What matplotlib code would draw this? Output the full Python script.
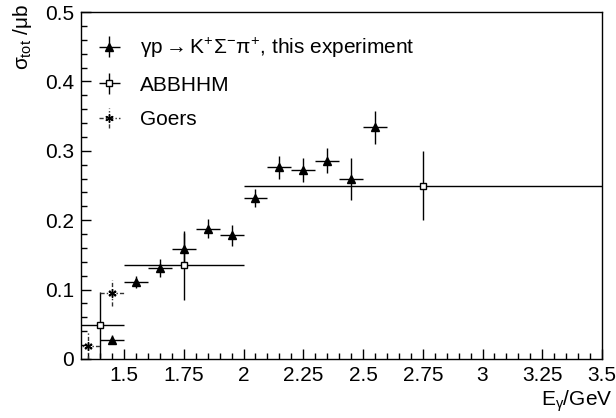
import numpy as np
import matplotlib
matplotlib.use("Agg")
import matplotlib.pyplot as plt
from matplotlib.ticker import MultipleLocator

plt.rcParams['font.family'] = ['Liberation Sans', 'DejaVu Sans']
plt.rcParams['mathtext.fontset'] = 'custom'
plt.rcParams['mathtext.rm'] = 'Liberation Sans'
plt.rcParams['mathtext.it'] = 'Liberation Sans'
plt.rcParams['mathtext.bf'] = 'Liberation Sans:bold'
plt.rcParams['mathtext.sf'] = 'Liberation Sans'

# this experiment
exp_x = [1.45, 1.55, 1.65, 1.75, 1.85, 1.95, 2.05, 2.15, 2.25, 2.35, 2.45, 2.55]
exp_y = [0.028, 0.111, 0.131, 0.159, 0.188, 0.178, 0.232, 0.276, 0.272, 0.286, 0.259, 0.334]
exp_yerr = [0.007, 0.009, 0.013, 0.022, 0.014, 0.015, 0.013, 0.017, 0.017, 0.018, 0.030, 0.024]
exp_xerr = [0.05] * 12

# ABBHHM
abb_x = [1.40, 1.75, 2.75]
abb_y = [0.049, 0.135, 0.250]
abb_yerr = [0.048, 0.050, 0.050]
abb_xerr = [0.10, 0.25, 0.75]

# Goers
go_x = [1.35, 1.45]
go_y = [0.019, 0.095]
go_yerr = [0.020, 0.019]
go_xerr = [0.05, 0.05]

fig = plt.figure(figsize=(6.16, 4.18), dpi=100)
ax = fig.add_axes([81/616, 1-359/418, (602-81)/616, (359-12)/418])

lw = 1.0
e1 = ax.errorbar(exp_x, exp_y, yerr=exp_yerr, xerr=exp_xerr, fmt='^', color='black',
                 ms=5.5, elinewidth=lw, capsize=0,
                 label=r'$\gamma$p$\rightarrow$K$^{+}\Sigma^{-}\pi^{+}$, this experiment')
e2 = ax.errorbar(abb_x, abb_y, yerr=abb_yerr, xerr=abb_xerr, fmt='s', color='black',
                 mfc='white', ms=4.5, mew=1.0, elinewidth=lw, capsize=0, label='ABBHHM')
e3 = ax.errorbar(go_x, go_y, yerr=go_yerr, xerr=go_xerr, linestyle='none',
                 marker=(6, 2, 0), ms=6, mew=1.0, mec='black', color='#333333',
                 elinewidth=lw, capsize=0, label='Goers')
for lc in e3[2]:
    lc.set_linestyle((0, (3, 1.5, 1, 1.5)))
ax.plot(go_x, go_y, linestyle='none', marker='x', color='black', ms=4, mew=0.8)

ax.set_xlim(1.32, 3.5)
ax.set_ylim(0, 0.5)
ax.xaxis.set_major_locator(MultipleLocator(0.25))
ax.xaxis.set_minor_locator(MultipleLocator(0.05))
ax.yaxis.set_major_locator(MultipleLocator(0.1))
ax.yaxis.set_minor_locator(MultipleLocator(0.02))
ax.set_xticks([1.5, 1.75, 2, 2.25, 2.5, 2.75, 3, 3.25, 3.5])
ax.set_xticklabels(['1.5', '1.75', '2', '2.25', '2.5', '2.75', '3', '3.25', '3.5'])
ax.set_yticks([0, 0.1, 0.2, 0.3, 0.4, 0.5])
ax.set_yticklabels(['0', '0.1', '0.2', '0.3', '0.4', '0.5'])
ax.tick_params(which='both', direction='in', top=False, right=False, labelsize=15, width=1)
ax.tick_params(which='major', length=7, pad=5)
ax.tick_params(which='minor', length=4)
for s in ax.spines.values():
    s.set_linewidth(1.0)

ax.set_xlabel(r'E$_{\gamma}$/GeV', fontsize=15, ha='right')
ax.xaxis.set_label_coords((612-81)/521, (359-389)/347)
ax.set_ylabel(r'$\sigma_{tot}$ /$\mu$b', fontsize=15, ha='right')
ax.yaxis.set_label_coords((34-81)/521, (359-4)/347)

leg = ax.legend(handles=[e1, e2, e3], loc='upper left',
                bbox_to_anchor=((98-81)/521, (359-36)/347), frameon=False,
                fontsize=15, borderpad=0, borderaxespad=0, handlelength=1.1,
                handletextpad=0.9, labelspacing=0.75)

fig.savefig('out.png', dpi=100)
